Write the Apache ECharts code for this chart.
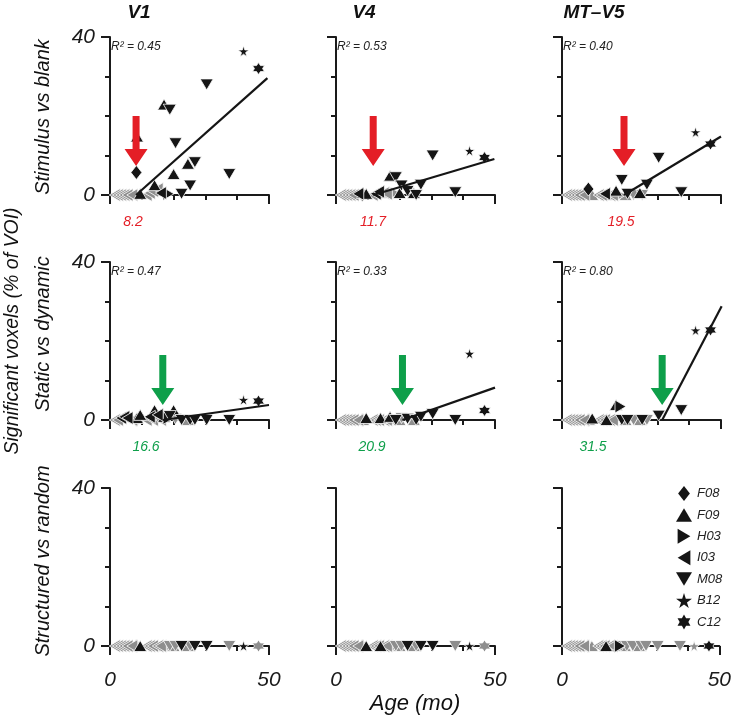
<!DOCTYPE html>
<html><head><meta charset="utf-8">
<script src="https://cdn.jsdelivr.net/npm/echarts/dist/echarts.min.js"></script>
<style>html,body{margin:0;padding:0;background:#fff}#c{width:734px;height:722px}</style>
</head><body><div id="c"></div>
<script>
// ---------- data ----------
const colTitles = ['V1', 'V4', 'MT\u2013V5'];
const rowTitles = ['Stimulus vs blank', 'Static vs dynamic', 'Structured vs random'];
const subjectOrder = ['F08', 'F09', 'H03', 'I03', 'M08', 'B12', 'C12'];

// every scan: subject and age (months)
const scanSubject = ['I03','I03','I03','I03','I03','I03','F08','F09','F09','I03','I03','I03','F09','I03','I03','F09','H03','M08','F09','M08','M08','F09','M08','M08','M08','M08','B12','C12'];
const scanAge     = [1.5, 2.5, 3.5, 4.5, 5.5, 7.0, 8.3, 8.5, 9.5, 11.5, 12.5, 13.5, 14.0, 15.0, 16.0, 17.0, 18.4, 18.8, 20.0, 20.6, 22.5, 24.5, 25.2, 26.7, 30.4, 37.5, 42.0, 46.7];

// significant voxels (% of VOI) per panel, in scan order
const v1Stim   = [0,0,0,0,0,0, 5.7, 14.8,0.3, 0,0.5,1.0, 2.5, 1.5,0.5, 22.9, 0.3, 21.6, 5.3, 13.1, 0.3, 7.9, 2.4, 8.3, 28.0, 5.3, 36.4, 32.0];
const v4Stim   = [0,0,0,0,0,0.3, 0, 0.5,0.3, 0,0.3,0.8, 0.5, 0.5,0.3, 4.9, 0.5, 4.5, 0.5, 2.4, 1.0, 0.5, 0, 2.6, 10.0, 0.7, 11.2, 9.5];
const mtStim   = [0,0,0,0,0,0, 1.5, 0,0, 0,0,0.3, 0, 0,0, 1.1, 0, 3.8, 0, 0.3, 0, 0.5, 0, 2.6, 9.4, 0.7, 15.9, 12.9];
const v1Static = [0,0,0.5,0.8,0.5,0, 0, 0.5,1.3, 0,0.8,0, 2.5, 1.3,0, 0.8, 0.5, 1.0, 2.5, 0.3, 0, 0, 0, 0, 0, 0, 5.1, 4.8];
const v4Static = [0,0,0,0,0,0, 0, 0,0.5, 0,0,0, 0.5, 0,0, 0.8, 0, 0, 0, 0.5, 0.3, 0, 0, 0.8, 1.5, 0, 16.8, 2.4];
const mtStatic = [0,0,0,0,0,0, 0, 0,0.4, 0,0,0, 0, 0,0, 3.8, 3.4, 0, 0, 0, 0, 0, 0, 0, 1.1, 2.5, 22.7, 22.8];
const v1Struct = [0,0,0,0,0,0, 0, 0,0, 0,0,0, 0, 0,0, 0, 0, 0, 0, 0, 0, 0, 0, 0, 0, 0, 0, 0];
const v4Struct = [0,0,0,0,0,0, 0, 0,0, 0,0,0, 0, 0,0, 0, 0, 0, 0, 0, 0, 0, 0, 0, 0, 0, 0, 0];
const mtStruct = [0,0,0,0,0,0, 0, 0,0, 0,0,0, 0, 0,0, 0, 0, 0, 0, 0, 0, 0, 0, 0, 0, 0, 0, 0];

// 1 = significant (black marker), 0 = not (grey marker)
const v1StimSig   = [0,0,0,0,0,0, 1, 1,1, 0,0,0, 1, 0,1, 1, 1, 1, 1, 1, 1, 1, 1, 1, 1, 1, 1, 1];
const v4StimSig   = [0,0,0,0,0,1, 0, 1,1, 0,1,1, 0, 0,0, 1, 0, 1, 1, 1, 1, 1, 1, 1, 1, 1, 1, 1];
const mtStimSig   = [0,0,0,0,0,0, 1, 0,0, 0,0,1, 0, 0,0, 1, 0, 1, 0, 1, 0, 1, 0, 1, 1, 1, 1, 1];
const v1StaticSig = [0,0,1,1,1,0, 0, 1,1, 0,1,0, 1, 1,0, 1, 1, 1, 1, 0, 1, 0, 1, 1, 1, 1, 1, 1];
const v4StaticSig = [0,0,0,0,0,0, 0, 0,1, 0,0,0, 1, 0,0, 1, 0, 1, 0, 0, 1, 0, 1, 1, 1, 1, 1, 1];
const mtStaticSig = [0,0,0,0,0,0, 0, 0,1, 0,0,0, 1, 0,0, 1, 1, 1, 0, 1, 0, 0, 1, 0, 1, 1, 1, 1];
const v1StructSig = [0,0,0,0,0,0, 0, 0,1, 0,0,0, 0, 0,0, 0, 0, 0, 0, 0, 1, 0, 0, 1, 1, 0, 1, 0];
const v4StructSig = [0,0,0,0,0,0, 0, 0,1, 0,0,0, 1, 0,0, 0, 0, 0, 0, 0, 1, 0, 0, 1, 1, 0, 1, 0];
const mtStructSig = [0,0,0,0,0,0, 0, 0,0, 0,0,0, 1, 0,0, 0, 1, 0, 0, 0, 0, 0, 0, 0, 0, 0, 0, 1];

// onset ages (arrows) and fitted hinge lines for the first two rows
const onsetAge   = [8.2, 11.7, 19.5, 16.6, 20.9, 31.5];
const onsetLabel = ['8.2', '11.7', '19.5', '16.6', '20.9', '31.5'];
const fitEndAge  = [49.5, 49.8, 50.0, 50.0, 50.0, 50.2];
const fitEndVal  = [29.6, 9.1, 14.8, 3.8, 8.2, 28.8];
const rSquared   = ['0.45', '0.53', '0.40', '0.47', '0.33', '0.80'];

const xTicks = [0, 50];
const yTicks = [0, 40];

// ---------- layout / style ----------
const FONT = '"Liberation Sans", Arial, Helvetica, sans-serif';
const colLeft = [110, 336, 562];
const rowTop = [37, 262, 488];
const gridW = 159, gridH = 158;
const BLACK = '#151515', GREY = '#8e8e8e', RED = '#e41e26', GREEN = '#0e9f4a';
const STAR5 = 'path://M50,0 L61,35 L98,35 L68,57 L79,91 L50,70 L21,91 L32,57 L2,35 L39,35 Z';
const STAR6 = 'path://M50,0 L64,25 L93,25 L79,50 L93,75 L64,75 L50,100 L36,75 L7,75 L21,50 L7,25 L36,25 Z';
const TRI_UP = 'path://M6.5,0 L13,11 L0,11 Z';
const TRI_DOWN = 'path://M0,0 L13,0 L6.5,11 Z';
const TRI_LEFT = 'path://M0,6.5 L11,0 L11,13 Z';
const TRI_RIGHT = 'path://M0,0 L11,6.5 L0,13 Z';
const DIAMOND = 'path://M5.5,0 L11,7 L5.5,14 L0,7 Z';
const ARROW = 'path://M8,0 L15,0 L15,33 L23,33 L11.5,50 L0,33 L8,33 Z';
const symbolOf = {F08: DIAMOND, F09: TRI_UP, H03: TRI_RIGHT, I03: TRI_LEFT, M08: TRI_DOWN, B12: STAR5, C12: STAR6};
const sizeOf = {F08: [11, 14], F09: [13, 11], H03: [11, 13], I03: [11, 13], M08: [13, 11], B12: 11, C12: 12};

const panelVals = [v1Stim, v4Stim, mtStim, v1Static, v4Static, mtStatic, v1Struct, v4Struct, mtStruct];
const panelSig = [v1StimSig, v4StimSig, mtStimSig, v1StaticSig, v4StaticSig, mtStaticSig, v1StructSig, v4StructSig, mtStructSig];

const grids = [], xAxes = [], yAxes = [], series = [], graphics = [];
const axisLineStyle = {color: '#1a1a1a', width: 2};

for (let g = 0; g < 9; g++) {
  const r = Math.floor(g / 3), c = g % 3;
  grids.push({left: colLeft[c], top: rowTop[r], width: gridW, height: gridH});
  xAxes.push({
    gridIndex: g, type: 'value', position: 'bottom', min: 0, max: 50, interval: 10, offset: 11,
    axisLine: {show: true, lineStyle: axisLineStyle},
    axisTick: {show: true, length: 5, lineStyle: {width: 2, color: '#1a1a1a'}},
    axisLabel: {show: r === 2, margin: 13, fontSize: 21, fontStyle: 'italic', fontFamily: FONT, color: '#1a1a1a',
      formatter: v => xTicks.indexOf(v) >= 0 ? String(v) : ''},
    splitLine: {show: false}
  });
  xAxes.push({
    gridIndex: g, type: 'value', position: 'bottom', min: 0, max: 50, interval: 50, offset: 11,
    axisLine: {show: false}, axisTick: {show: true, length: 9, lineStyle: {width: 2, color: '#1a1a1a'}},
    axisLabel: {show: false}, splitLine: {show: false}
  });
  yAxes.push({
    gridIndex: g, type: 'value', position: 'left', min: 0, max: 40, interval: 10, offset: 7,
    axisLine: {show: true, lineStyle: axisLineStyle},
    axisTick: {show: true, length: 5, lineStyle: {width: 2, color: '#1a1a1a'}},
    axisLabel: {show: c === 0, margin: 8, fontSize: 21, fontStyle: 'italic', fontFamily: FONT, color: '#1a1a1a',
      formatter: v => yTicks.indexOf(v) >= 0 ? String(v) : ''},
    splitLine: {show: false}
  });
  yAxes.push({
    gridIndex: g, type: 'value', position: 'left', min: 0, max: 40, interval: 40, offset: 7,
    axisLine: {show: false}, axisTick: {show: true, length: 9, lineStyle: {width: 2, color: '#1a1a1a'}},
    axisLabel: {show: false}, splitLine: {show: false}
  });

  const vals = panelVals[g], sig = panelSig[g];
  [1, 0].forEach(black => {
    subjectOrder.forEach(s => {
      const data = [];
      for (let i = 0; i < scanAge.length; i++) {
        if (scanSubject[i] === s && sig[i] === black) data.push([scanAge[i], vals[i]]);
      }
      series.push({
        type: 'scatter', name: s, xAxisIndex: 2 * g, yAxisIndex: 2 * g,
        symbol: symbolOf[s], symbolSize: sizeOf[s],
        itemStyle: {color: black ? BLACK : GREY, borderColor: '#fff', borderWidth: 0.8, opacity: 1},
        z: black ? 3 : 2, clip: false, silent: true, data: data
      });
    });
  });

  if (g < 6) {
    series.push({
      type: 'line', xAxisIndex: 2 * g, yAxisIndex: 2 * g, symbol: 'none', clip: false, silent: true, z: 4,
      lineStyle: {color: BLACK, width: 2.2},
      data: [[onsetAge[g], 0], [fitEndAge[g], fitEndVal[g]]]
    });
    series.push({
      type: 'scatter', xAxisIndex: 2 * g, yAxisIndex: 2 * g, symbol: ARROW, symbolSize: [23, 50],
      symbolOffset: [0, r === 0 ? -54 : -40], clip: false, silent: true, z: 5,
      itemStyle: {color: r === 0 ? RED : GREEN, opacity: 1},
      data: [[onsetAge[g], 0]]
    });
    graphics.push({
      type: 'text', left: colLeft[c] + 1, top: rowTop[r] + 4, z: 10,
      style: {text: 'R\u00B2 = ' + rSquared[g], fontSize: 12, fontStyle: 'italic', fontFamily: FONT, fill: '#222'}
    });
  }
}

const labelX = [133, 373, 621, 146, 372, 593];
for (let g = 0; g < 6; g++) {
  const r = Math.floor(g / 3);
  graphics.push({
    type: 'text', x: labelX[g], y: r === 0 ? 222 : 447, z: 10,
    style: {text: onsetLabel[g], fontSize: 14, fontStyle: 'italic', fontFamily: FONT,
      fill: r === 0 ? RED : GREEN, textAlign: 'center', textVerticalAlign: 'middle'}
  });
}
const titleX = [139, 364, 594];
colTitles.forEach((t, c) => graphics.push({
  type: 'text', x: titleX[c], y: 13, z: 10,
  style: {text: t, fontSize: 19, fontStyle: 'italic', fontWeight: 'bold', fontFamily: FONT, fill: '#111',
    textAlign: 'center', textVerticalAlign: 'middle'}
}));
const rowTitleY = [117, 334, 561];
rowTitles.forEach((t, r) => graphics.push({
  type: 'text', x: 43, y: rowTitleY[r], rotation: Math.PI / 2, z: 10,
  style: {text: t, fontSize: 20, fontStyle: 'italic', fontFamily: FONT, fill: '#111',
    textAlign: 'center', textVerticalAlign: 'middle'}
}));
graphics.push({
  type: 'text', x: 13, y: 331, rotation: Math.PI / 2, z: 10,
  style: {text: 'Significant voxels (% of VOI)', fontSize: 19.5, fontStyle: 'italic', fontFamily: FONT, fill: '#111',
    textAlign: 'center', textVerticalAlign: 'middle'}
});
graphics.push({
  type: 'text', x: 415, y: 704, z: 10,
  style: {text: 'Age (mo)', fontSize: 22, fontStyle: 'italic', fontFamily: FONT, fill: '#111',
    textAlign: 'center', textVerticalAlign: 'middle'}
});

const chart = echarts.init(document.getElementById('c'), null, {renderer: 'canvas'});
chart.setOption({
  animation: false,
  backgroundColor: '#fff',
  grid: grids, xAxis: xAxes, yAxis: yAxes, series: series, graphic: graphics,
  legend: {
    data: subjectOrder.map(s => ({name: s, icon: symbolOf[s]})),
    orient: 'vertical', left: 676, top: 486, itemWidth: 16, itemHeight: 15, itemGap: 6.4, itemNameGap: 5,
    selectedMode: false, padding: 0,
    itemStyle: {borderWidth: 0},
    textStyle: {fontSize: 13, fontStyle: 'italic', fontFamily: FONT, color: '#222', lineHeight: 15}
  }
});
</script>
</body></html>
